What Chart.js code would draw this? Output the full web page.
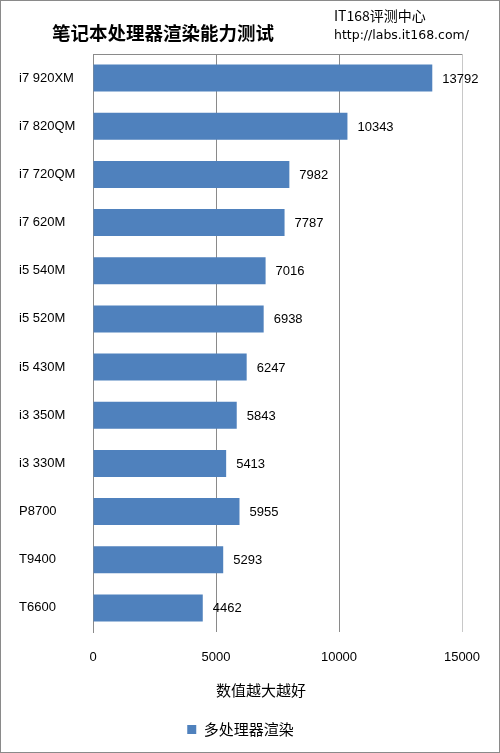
<!DOCTYPE html>
<html>
<head>
<meta charset="utf-8">
<script src="https://cdn.jsdelivr.net/npm/chart.js@4"></script>
<style>
  html, body { margin: 0; padding: 0; background: #fff; }
  canvas { display: block; }
</style>
</head>
<body>
<canvas id="chart" width="500" height="753"></canvas>
<script>
// chart data
const labels = ['i7 920XM', 'i7 820QM', 'i7 720QM', 'i7 620M', 'i5 540M', 'i5 520M',
  'i5 430M', 'i3 350M', 'i3 330M', 'P8700', 'T9400', 'T6600'];
const scores = [13792, 10343, 7982, 7787, 7016, 6938, 6247, 5843, 5413, 5955, 5293, 4462];
const seriesName = '多处理器渲染';
const chartTitle = '笔记本处理器渲染能力测试';
const sourceLines = ['IT168评测中心', 'http://labs.it168.com/'];
const axisTitle = '数值越大越好';
const xTicks = [0, 5000, 10000, 15000];

const FONT = '"Liberation Sans", "Noto Sans CJK SC", sans-serif';
const CJK = '"Noto Sans CJK SC", "Liberation Sans", sans-serif';

// titles, value labels, frame
const extras = {
  id: 'extras',
  afterDraw(chart) {
    const ctx = chart.ctx;
    const area = chart.chartArea;
    ctx.save();

    // outer frame
    ctx.strokeStyle = '#8a8a8a';
    ctx.lineWidth = 1;
    ctx.strokeRect(0.5, 0.5, chart.width - 1, chart.height - 1);

    // top border of plot area
    ctx.beginPath();
    ctx.moveTo(area.left, Math.round(area.top) + 0.5);
    ctx.lineTo(area.right, Math.round(area.top) + 0.5);
    ctx.stroke();

    ctx.fillStyle = '#000';
    ctx.textBaseline = 'middle';

    ctx.font = 'bold 18.5px ' + CJK;
    ctx.textAlign = 'center';
    ctx.fillText(chartTitle, 163, 33);

    ctx.textAlign = 'left';
    ctx.font = '14px ' + CJK;
    ctx.fillText(sourceLines[0], 334, 16);
    ctx.font = '12.5px "DejaVu Sans", sans-serif';
    ctx.fillText(sourceLines[1], 334, 36);

    ctx.textAlign = 'center';
    ctx.font = '15px ' + CJK;
    ctx.fillText(axisTitle, 261, 690);

    // value labels
    ctx.font = '13px ' + FONT;
    ctx.textAlign = 'left';
    const meta = chart.getDatasetMeta(0);
    meta.data.forEach((bar, i) => {
      ctx.fillText(String(scores[i]), bar.x + 10, bar.y + 1);
    });
    ctx.restore();
  }
};

const data = {
  labels: labels,
  datasets: [{
    label: seriesName,
    data: scores,
    backgroundColor: '#4f81bd',
    borderWidth: 0,
    categoryPercentage: 1,
    barPercentage: 0.56
  }]
};

const options = {
  indexAxis: 'y',
  responsive: false,
  animation: false,
  layout: {
    padding: { top: 54, left: 19, right: 38, bottom: 6 }
  },
  plugins: {
    tooltip: { enabled: false },
    legend: {
      position: 'bottom',
      labels: {
        boxWidth: 9,
        boxHeight: 9,
        padding: 10,
        color: '#000',
        font: { size: 15, family: CJK }
      }
    }
  },
  scales: {
    x: {
      min: 0,
      max: 15000,
      afterBuildTicks(scale) {
        scale.ticks = xTicks.map(v => ({ value: v }));
      },
      afterFit(scale) { scale.height = 80; },
      border: { display: false },
      grid: {
        drawTicks: false,
        color: ctx => (ctx.tick && ctx.tick.value === 15000 ? '#c8c8c8' : '#8a8a8a')
      },
      ticks: {
        padding: 18,
        color: '#000',
        maxRotation: 0,
        font: { size: 13, family: FONT },
        callback: v => String(v)
      }
    },
    y: {
      afterFit(scale) { scale.width = 74; },
      border: { display: true, color: '#8a8a8a' },
      grid: { display: false, drawTicks: false },
      ticks: {
        crossAlign: 'far',
        color: '#000',
        font: { size: 13, family: FONT }
      }
    }
  }
};

const chart = new Chart(document.getElementById('chart'), {
  type: 'bar',
  data: data,
  options: options,
  plugins: [extras]
});
</script>
</body>
</html>
